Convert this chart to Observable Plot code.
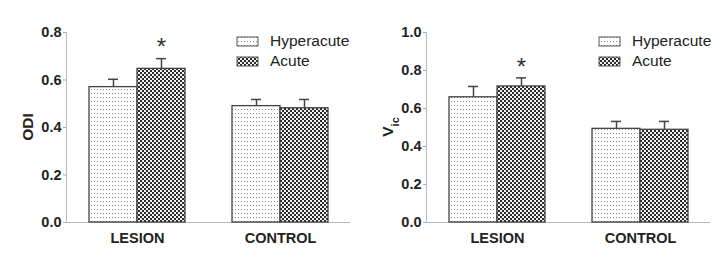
<!DOCTYPE html>
<html><head><meta charset="utf-8">
<script src="https://cdn.jsdelivr.net/npm/d3@7"></script>
<script src="https://cdn.jsdelivr.net/npm/@observablehq/plot@0.6"></script>
<style>
body{margin:0;background:#fff;}
#row{display:flex;width:727px;height:261px;}
svg text{font-family:"Liberation Sans",Arial,sans-serif;}
</style></head><body>
<svg width="0" height="0" style="position:absolute">
<defs>
<pattern id="pat-hyper" width="3" height="4" patternUnits="userSpaceOnUse">
<rect width="3" height="4" fill="#fff"/><rect x="1" y="1" width="1" height="1" fill="#8a8a8a"/></pattern>
<pattern id="pat-acute" width="4" height="4" patternUnits="userSpaceOnUse">
<rect width="4" height="4" fill="#f2f2f2"/><rect width="2" height="2" fill="#2a2a2a"/><rect x="2" y="2" width="2" height="2" fill="#2a2a2a"/></pattern>
</defs></svg>
<div id="row"></div>
<script>
const categories = ["LESION", "CONTROL"];
const series = ["Hyperacute", "Acute"];
const odiHyperacute = [0.570, 0.490];
const odiHyperacuteSem = [0.033, 0.028];
const odiAcute = [0.647, 0.481];
const odiAcuteSem = [0.043, 0.037];
const vicHyperacute = [0.659, 0.493];
const vicHyperacuteSem = [0.057, 0.039];
const vicAcute = [0.716, 0.488];
const vicAcuteSem = [0.045, 0.044];
const significance = ["*", ""];
const odiTicks = [0, 0.2, 0.4, 0.6, 0.8];
const vicTicks = [0, 0.2, 0.4, 0.6, 0.8, 1.0];
const patterns = ["url(#pat-hyper)", "url(#pat-acute)"];

function rows(hyper, hyperSem, acute, acuteSem) {
  return categories.map((c, i) => ({
    category: c,
    hyper: hyper[i], hyperTop: hyper[i] + hyperSem[i],
    acute: acute[i], acuteTop: acute[i] + acuteSem[i],
    sig: significance[i]
  }));
}

function chart({width, data, ticks, yLabel, ySub, legendX}) {
  const xOpts = {type: "band", domain: categories, paddingInner: 0.33, paddingOuter: 0.155, label: null};
  const base = {width, height: 261, marginLeft: 66, marginRight: width - 350, marginTop: 32, marginBottom: 39};
  const probe = Plot.plot({...base, x: xOpts, marks: [Plot.barY(data, {x: "category", y: "hyper"})]});
  const bw = probe.scale("x").bandwidth;
  const half = bw / 2, q = bw / 4, cap = 5;
  const ink = "#444";
  const svg = Plot.plot({
    ...base,
    x: xOpts,
    y: {domain: [0, ticks[ticks.length - 1]], label: null},
    marks: [
      Plot.frame({anchor: "left", stroke: "#bbb"}),
      Plot.ruleY([0], {stroke: "#bbb"}),
      Plot.barY(data, {x: "category", y: "hyper", fill: patterns[0], stroke: ink, strokeWidth: 1.3, insetRight: half}),
      Plot.barY(data, {x: "category", y: "acute", fill: patterns[1], stroke: ink, strokeWidth: 1.3, insetLeft: half}),
      Plot.ruleX(data, {x: "category", y1: "hyper", y2: "hyperTop", dx: -q, stroke: ink, strokeWidth: 1.5}),
      Plot.tickY(data, {x: "category", y: "hyperTop", dx: -q, insetLeft: half - cap, insetRight: half - cap, stroke: ink, strokeWidth: 1.5}),
      Plot.ruleX(data, {x: "category", y1: "acute", y2: "acuteTop", dx: q, stroke: ink, strokeWidth: 1.5}),
      Plot.tickY(data, {x: "category", y: "acuteTop", dx: q, insetLeft: half - cap, insetRight: half - cap, stroke: ink, strokeWidth: 1.5}),
      Plot.text(data, {x: "category", y: "acuteTop", text: "sig", dx: q, dy: -11, fontSize: 24, fontWeight: "normal", fontFamily: "DejaVu Sans", fill: "#333"}),
      Plot.axisY({ticks, tickFormat: d => d.toFixed(1), tickSize: 3, tickPadding: 2, fontSize: 14.5, fontWeight: "bold", stroke: "#aaa", fill: "#222", label: null}),
      Plot.axisX({tickSize: 0, tickPadding: 10, fontSize: 14.5, fontWeight: "bold", fill: "#222", label: null})
    ]
  });
  const s = d3.select(svg);
  const t = s.append("text")
    .attr("transform", "translate(28,127) rotate(-90)")
    .attr("text-anchor", "middle").attr("dy", "0.35em")
    .attr("font-size", 15.5).attr("font-weight", "bold").attr("fill", "#222")
    .text(yLabel);
  if (ySub) t.append("tspan").attr("baseline-shift", "sub").attr("font-size", 11).text(ySub);
  const lg = s.append("g").attr("text-anchor", "start");
  series.forEach((name, i) => {
    const y = 37 + i * 20;
    lg.append("rect").attr("x", legendX).attr("y", y).attr("width", 21).attr("height", 9)
      .attr("fill", patterns[i]).attr("stroke", "#555").attr("stroke-width", 1);
    lg.append("text").attr("x", legendX + 33).attr("y", y + 9).attr("font-size", 15.5)
      .attr("text-anchor", "start").attr("fill", "#222").text(name);
  });
  return svg;
}

const row = document.getElementById("row");
row.append(chart({width: 360, data: rows(odiHyperacute, odiHyperacuteSem, odiAcute, odiAcuteSem), ticks: odiTicks, yLabel: "ODI", ySub: null, legendX: 237}));
row.append(chart({width: 367, data: rows(vicHyperacute, vicHyperacuteSem, vicAcute, vicAcuteSem), ticks: vicTicks, yLabel: "V", ySub: "ic", legendX: 239}));
</script>
</body></html>
